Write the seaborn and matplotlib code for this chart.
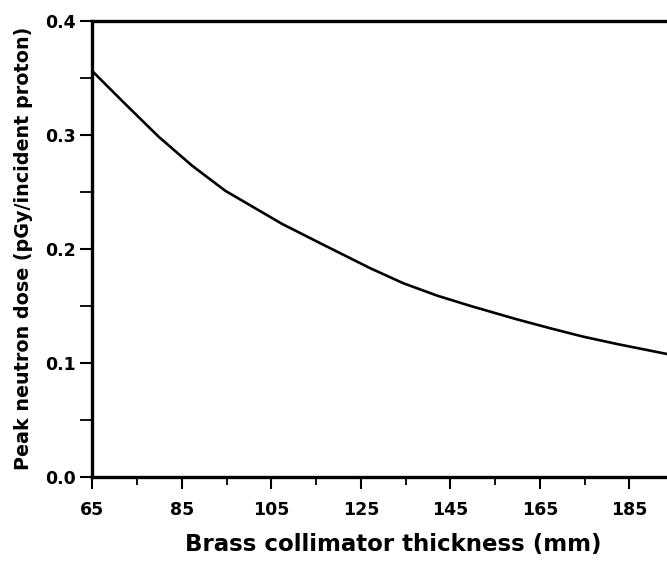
import matplotlib
matplotlib.use("Agg")
import matplotlib.pyplot as plt
import seaborn as sns
import pandas as pd
from matplotlib.ticker import MultipleLocator, FixedLocator

thickness_mm = [65, 72.4, 79.8, 87.3, 94.7, 107.4, 115.9, 127.1, 134.5, 142.0,
                149.4, 159.8, 167.3, 174.7, 182.2, 193.4]
peak_dose = [0.356, 0.327, 0.2985, 0.2730, 0.2510, 0.2219, 0.2050, 0.1830, 0.1698,
             0.1590, 0.1500, 0.1382, 0.1303, 0.1229, 0.1165, 0.1077]
x_ticks = [65, 85, 105, 125, 145, 165, 185]
x_minor_ticks = [75, 95, 115, 135, 155, 175, 195]
y_ticks = [0.0, 0.1, 0.2, 0.3, 0.4]

sns.set_style("ticks")
plt.rcParams['font.family'] = ['DejaVu Sans']
plt.rcParams['font.weight'] = 'bold'
plt.rcParams['text.color'] = 'black'
plt.rcParams['axes.labelcolor'] = 'black'

df = pd.DataFrame({"thickness": thickness_mm, "dose": peak_dose})

fig = plt.figure(figsize=(6.67, 5.61), dpi=100)
ax = fig.add_axes([92.3 / 667, 1 - 476.7 / 561, 1 - 92.3 / 667, (476.7 - 21) / 561])
sns.lineplot(data=df, x="thickness", y="dose", ax=ax, color="black", linewidth=1.9)

ax.set_xlim(65, 193.4)
ax.set_ylim(0, 0.4)
ax.set_xticks(x_ticks)
ax.set_xticklabels([str(v) for v in x_ticks])
ax.set_yticks(y_ticks)
ax.set_yticklabels([f"{v:.1f}" for v in y_ticks])
ax.xaxis.set_minor_locator(FixedLocator(x_minor_ticks))
ax.yaxis.set_minor_locator(MultipleLocator(0.05))

for s in ["left", "bottom", "top"]:
    ax.spines[s].set_linewidth(2.4)
    ax.spines[s].set_color("black")
ax.spines["right"].set_visible(False)

ax.tick_params(axis="both", which="major", length=8.6, width=1.5, color="black",
               labelsize=12.5, labelcolor="black")
ax.tick_params(axis="x", which="major", pad=9)
ax.tick_params(axis="y", which="major", pad=3)
ax.tick_params(axis="x", which="minor", length=5.8, width=1.3, color="black")
ax.tick_params(axis="y", which="minor", length=8.6, width=1.3, color="black")
for lab in ax.get_xticklabels() + ax.get_yticklabels():
    lab.set_fontweight("bold")

ax.set_xlabel("Brass collimator thickness (mm)", fontsize=16.5, fontweight="bold",
              color="black")
ax.xaxis.set_label_coords((393 - 92.3) / (667 - 92.3), -(556 - 476.7) / (476.7 - 21))
ax.xaxis.label.set_va("bottom")
ax.set_ylabel("Peak neutron dose (pGy/incident proton)", fontsize=13.8, fontweight="bold",
              labelpad=9, color="black")

fig.savefig("out.png", dpi=100)
